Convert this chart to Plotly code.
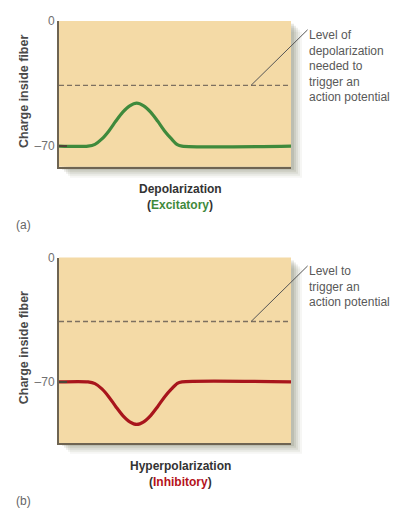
import plotly.graph_objects as go

# page body has an 8px margin; figure drawn at (8, 8)
OFF = 8
W, H = 407 - OFF, 508 - OFF

# ---- data ----
x_time = [0, 12.5, 15.5, 18.5, 21.5, 24.5, 27.5, 30.5, 33.5, 36.5, 39.5, 42.5, 45.5, 48.5, 51, 53, 100]
depol_mv = [-70, -70, -69.0, -66.0, -61.5, -56.0, -51.0, -47.5, -46,
            -47.5, -51.0, -56.0, -61.5, -66.0, -69.2, -70, -70]
hyper_mv = [-70, -70, -71.0, -74.0, -78.5, -84.0, -89.0, -92.5, -94,
            -92.5, -89.0, -84.0, -78.5, -74.0, -70.8, -70, -70]
thr_x = [0, 100]
thr_a = [-36, -36]
thr_b = [-36, -36]
leader_x = 82.8
tick_vals = [0, -70]
tick_text = ["0", "–70"]
yrange_a = [-81.6, 0]
yrange_b = [-104.4, 0]

# ---- pixel helpers for layout (window pixel coords) ----
def px(x):
    return (x - OFF) / W

def py(y):
    return 1 - (y - OFF) / H

L, R = 59, 291
A_T, A_B = 14, 162
B_T, B_B = 254, 442

GREEN = "#3f8a3c"
RED = "#a8151c"
TAN = "#f4daa6"
BORDER = "#6e6452"
DASH = "#7d7060"
FONT = "Liberation Sans, Arial, sans-serif"

fig = go.Figure()

fig.add_trace(go.Scatter(x=thr_x, y=thr_a, mode="lines", xaxis="x", yaxis="y",
                         line=dict(color=DASH, width=1.3, dash="5px,3px"),
                         hoverinfo="skip"))
fig.add_trace(go.Scatter(x=x_time, y=depol_mv, mode="lines", xaxis="x", yaxis="y",
                         line=dict(color=GREEN, width=3.2, shape="spline", smoothing=0.8)))
fig.add_trace(go.Scatter(x=thr_x, y=thr_b, mode="lines", xaxis="x2", yaxis="y2",
                         line=dict(color=DASH, width=1.3, dash="5px,3px"),
                         hoverinfo="skip"))
fig.add_trace(go.Scatter(x=x_time, y=hyper_mv, mode="lines", xaxis="x2", yaxis="y2",
                         line=dict(color=RED, width=3.2, shape="spline", smoothing=0.8)))

shapes = []
for top, bot in [(A_T, A_B), (B_T, B_B)]:
    # soft drop shadow
    for off, a in [(11, 0.06), (9, 0.08), (7, 0.10), (5, 0.12), (3, 0.14)]:
        shapes.append(dict(type="rect", xref="paper", yref="paper", layer="below",
                           x0=px(L + off), x1=px(R + off), y0=py(bot + off), y1=py(top + off),
                           fillcolor=f"rgba(95,100,70,{a})", line=dict(width=0)))
    shapes.append(dict(type="rect", xref="paper", yref="paper", layer="below",
                       x0=px(L), x1=px(R), y0=py(bot), y1=py(top),
                       fillcolor=TAN, line=dict(width=0)))

axis_common = dict(showgrid=False, zeroline=False)
yaxis_common = dict(tickvals=tick_vals, ticktext=tick_text, ticks="inside", ticklen=8,
                    tickwidth=2, tickcolor="#4d4536", showline=True, linecolor=BORDER,
                    linewidth=2, tickfont=dict(family=FONT, size=12, color="#707070"),
                    **axis_common)
xaxis_common = dict(range=[0, 100], showticklabels=False, ticks="", showline=True,
                    linecolor=BORDER, linewidth=2, **axis_common)
fig.update_layout(
    width=W, height=H,
    margin=dict(l=0, r=0, t=0, b=0),
    paper_bgcolor="white", plot_bgcolor="rgba(0,0,0,0)",
    showlegend=False,
    shapes=shapes,
    xaxis=dict(domain=[px(L), px(R)], anchor="y", **xaxis_common),
    yaxis=dict(domain=[py(A_B), py(A_T)], range=yrange_a, anchor="x", **yaxis_common),
    xaxis2=dict(domain=[px(L), px(R)], anchor="y2", **xaxis_common),
    yaxis2=dict(domain=[py(B_B), py(B_T)], range=yrange_b, anchor="x2", **yaxis_common),
)

ann = []
# leader lines
ann.append(dict(x=leader_x, y=thr_a[0], xref="x", yref="y", text="", showarrow=True,
                arrowhead=0, arrowwidth=1, arrowcolor="#555", ax=58, ay=-57, standoff=0))
ann.append(dict(x=leader_x, y=thr_b[0], xref="x2", yref="y2", text="", showarrow=True,
                arrowhead=0, arrowwidth=1, arrowcolor="#555", ax=58, ay=-57, standoff=0))
# side notes
ann.append(dict(x=px(307), y=py(59.5), xref="paper", yref="paper", xanchor="left",
                yanchor="middle", align="left", showarrow=False,
                text="Level of<br>depolarization<br>needed to<br>trigger an<br>action potential",
                font=dict(family=FONT, size=12, color="#595959")))
ann.append(dict(x=px(307), y=py(283), xref="paper", yref="paper", xanchor="left",
                yanchor="middle", align="left", showarrow=False,
                text="Level to<br>trigger an<br>action potential",
                font=dict(family=FONT, size=12, color="#595959")))
# y titles
for yc in [86, 346]:
    ann.append(dict(x=px(24), y=py(yc), xref="paper", yref="paper", textangle=-90,
                    xanchor="center", yanchor="middle",
                    showarrow=False, text="<b>Charge inside fiber</b>",
                    font=dict(family=FONT, size=12.5, color="#4a4a4a")))
# captions
def cap(x, y, text, color="#333333", size=12):
    ann.append(dict(x=px(x), y=py(y), xref="paper", yref="paper", showarrow=False,
                    xanchor="center", yanchor="middle", text=text,
                    font=dict(family=FONT, size=size, color=color)))

cap(180, 184, "<b>Depolarization</b>")
cap(180, 201, f"<b>(<span style='color:{GREEN}'>Excitatory</span>)</b>")
cap(180, 465, "<b>Hyperpolarization</b>")
cap(180, 482, "<b>(<span style='color:#b5121b'>Inhibitory</span>)</b>")
cap(23, 221, "(a)", color="#666666")
cap(23, 501, "(b)", color="#666666")
fig.update_layout(annotations=ann)

fig.write_html("out.html")
